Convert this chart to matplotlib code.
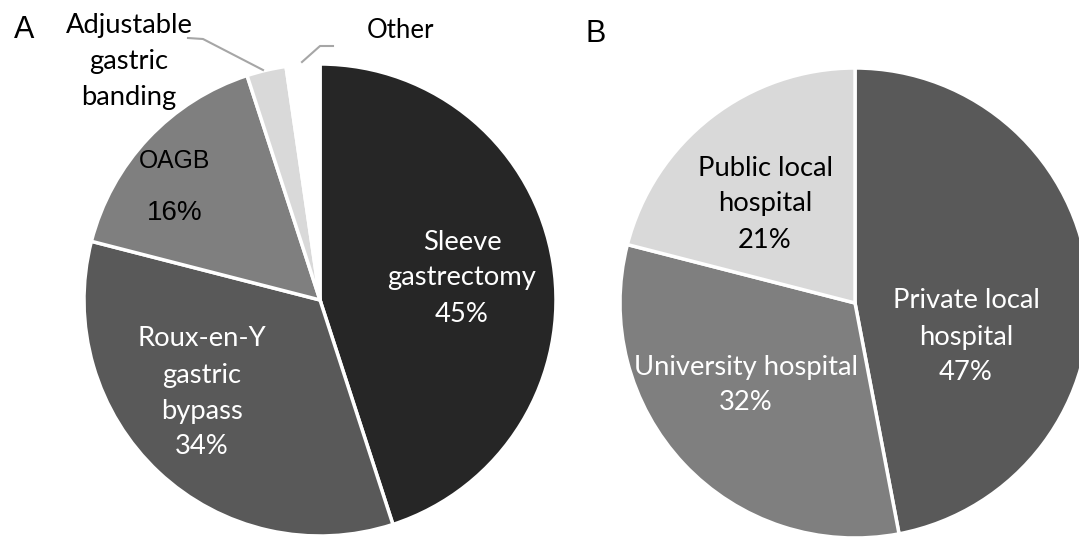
import matplotlib.pyplot as plt

# Panel A: type of bariatric surgery
surg_labels = ["Sleeve\ngastrectomy\n45%", "Roux-en-Y\ngastric\nbypass\n34%", "OAGB", "Adjustable\ngastric\nbanding", "Other"]
surg_values = [45, 34, 16, 2.7, 2.3]
surg_colors = ["#262626", "#595959", "#7f7f7f", "#d9d9d9", "#ffffff"]

# Panel B: type of hospital
hosp_labels = ["Private local\nhospital\n47%", "University hospital\n32%", "Public local\nhospital\n21%"]
hosp_values = [47, 32, 21]
hosp_colors = ["#595959", "#7f7f7f", "#d9d9d9"]

W, H = 1079, 538
fig = plt.figure(figsize=(W / 100, H / 100), dpi=100)
ax = fig.add_axes([0, 0, 1, 1])

wp = dict(edgecolor="white", linewidth=2.5)
ax.pie(surg_values, colors=surg_colors, startangle=90, counterclock=False,
       center=(320, H - 300), radius=236, wedgeprops=wp)
ax.pie(hosp_values, colors=hosp_colors, startangle=90, counterclock=False,
       center=(855, H - 303), radius=235, wedgeprops=wp)

ax.set_xlim(0, W)
ax.set_ylim(0, H)
ax.set_aspect("equal")
ax.axis("off")

calib = ["Lato", "DejaVu Sans"]
fs = 19.7
ls = 1.55

def lab(x, y, s, color, size=fs, family=calib):
    ax.text(x, H - y, s, ha="center", va="center", color=color, fontsize=size,
            family=family, linespacing=ls)

lab(462, 278, surg_labels[0], "white")
lab(202, 393, surg_labels[1], "white")
lab(175, 161, surg_labels[2], "black", size=17.8, family=["Liberation Sans"])
lab(175, 213, "16%", "black", size=20, family=["Liberation Sans"])
lab(129, 61, surg_labels[3], "black")
lab(400, 31, surg_labels[4], "black", size=18.5)

lab(966, 337, hosp_labels[0], "white")
lab(746, 385, hosp_labels[1], "white")
lab(765, 204, hosp_labels[2], "black")

# leader lines for the small slices
ax.plot([188, 203, 263], [H - 38, H - 39, H - 70], color="#a6a6a6", lw=1.5)
ax.plot([333, 320, 302], [H - 46, H - 46, H - 62], color="#a6a6a6", lw=1.5)

ax.text(24, H - 30, "A", ha="center", va="center", fontsize=22, family="Liberation Sans")
ax.text(596, H - 34, "B", ha="center", va="center", fontsize=22, family="Liberation Sans")

fig.savefig("out.png", dpi=100)
